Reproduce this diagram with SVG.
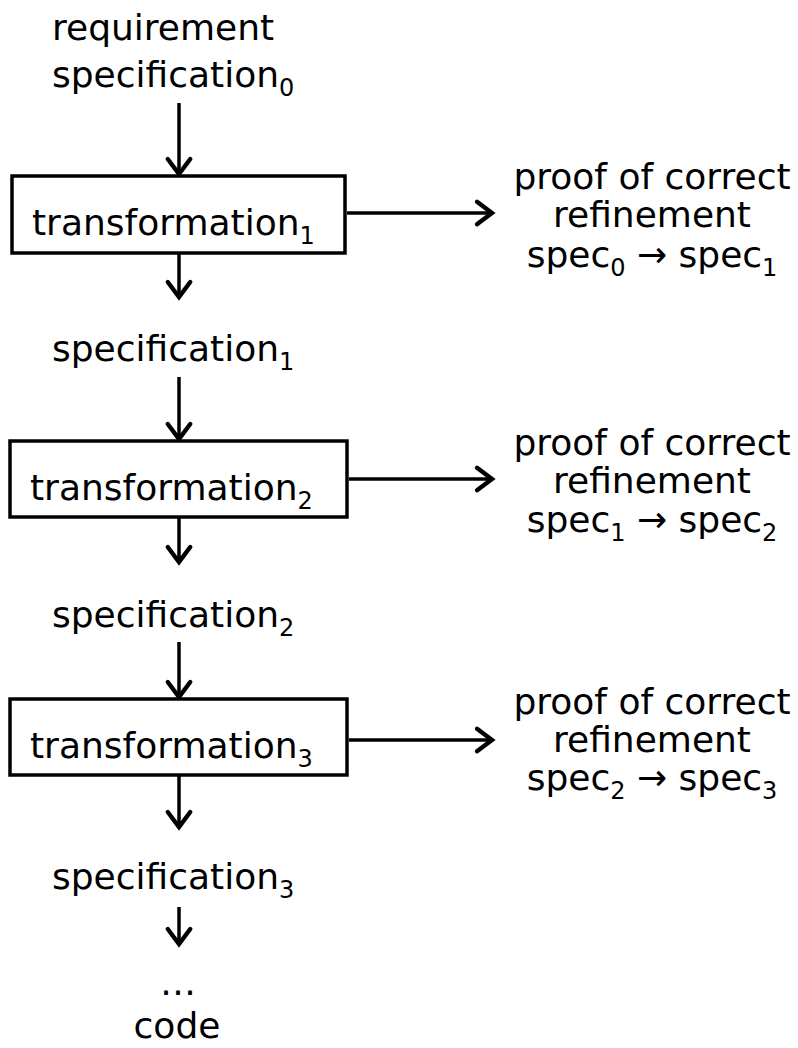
<svg xmlns="http://www.w3.org/2000/svg" width="798" height="1048" viewBox="0 0 798 1048">
<style>
text{font-family:"DejaVu Sans","Liberation Sans",sans-serif;font-size:36px;fill:#000}
.sub{font-size:24px}
.mid{text-anchor:middle}
.box{fill:#fff;stroke:#000;stroke-width:3.5}
.conn line{stroke:#000;stroke-width:3.5;fill:none}
</style>
<defs>
<marker id="ah" markerUnits="userSpaceOnUse" markerWidth="30" markerHeight="30" refX="0" refY="0" viewBox="-16 -12 20 24" orient="auto" overflow="visible">
<path d="M-12,-9 L0,0 L-12,9" fill="none" stroke="#000" stroke-width="3.5" stroke-linecap="round" stroke-linejoin="miter"/>
</marker>
</defs>
<rect width="798" height="1048" fill="#fff"/>
<g id="connectors" class="conn">
<line x1="179" y1="103" x2="179" y2="174" marker-end="url(#ah)"/>
<line x1="179" y1="253" x2="179" y2="297" marker-end="url(#ah)"/>
<line x1="179" y1="377" x2="179" y2="439" marker-end="url(#ah)"/>
<line x1="179" y1="517" x2="179" y2="562" marker-end="url(#ah)"/>
<line x1="179" y1="642" x2="179" y2="697" marker-end="url(#ah)"/>
<line x1="179" y1="775" x2="179" y2="827" marker-end="url(#ah)"/>
<line x1="179" y1="907" x2="179" y2="944" marker-end="url(#ah)"/>
<line x1="347" y1="213" x2="492" y2="213" marker-end="url(#ah)"/>
<line x1="349" y1="479" x2="492" y2="479" marker-end="url(#ah)"/>
<line x1="349" y1="740" x2="492" y2="740" marker-end="url(#ah)"/>
</g>
<g id="req-spec0">
<text x="52" y="40">requirement</text>
<text x="52" y="87">specification<tspan class="sub" dy="9">0</tspan></text>
</g>
<g id="transformation1">
<rect class="box" x="12" y="176" width="333" height="77"/>
<text x="32" y="235">transformation<tspan class="sub" dy="9">1</tspan></text>
</g>
<g id="proof1">
<text class="mid" x="652" y="189">proof of correct</text>
<text class="mid" x="652" y="227">refinement</text>
<text class="mid" x="652" y="267">spec<tspan class="sub" dy="9">0</tspan><tspan dy="-9"> → spec</tspan><tspan class="sub" dy="9">1</tspan></text>
</g>
<g id="spec1">
<text x="52" y="361">specification<tspan class="sub" dy="9">1</tspan></text>
</g>
<g id="transformation2">
<rect class="box" x="10" y="441" width="337" height="76"/>
<text x="30" y="500">transformation<tspan class="sub" dy="9">2</tspan></text>
</g>
<g id="proof2">
<text class="mid" x="652" y="455">proof of correct</text>
<text class="mid" x="652" y="493">refinement</text>
<text class="mid" x="652" y="532">spec<tspan class="sub" dy="9">1</tspan><tspan dy="-9"> → spec</tspan><tspan class="sub" dy="9">2</tspan></text>
</g>
<g id="spec2">
<text x="52" y="627">specification<tspan class="sub" dy="9">2</tspan></text>
</g>
<g id="transformation3">
<rect class="box" x="10" y="699" width="337" height="76"/>
<text x="30" y="758">transformation<tspan class="sub" dy="9">3</tspan></text>
</g>
<g id="proof3">
<text class="mid" x="652" y="714">proof of correct</text>
<text class="mid" x="652" y="752">refinement</text>
<text class="mid" x="652" y="790">spec<tspan class="sub" dy="9">2</tspan><tspan dy="-9"> → spec</tspan><tspan class="sub" dy="9">3</tspan></text>
</g>
<g id="spec3">
<text x="52" y="889">specification<tspan class="sub" dy="9">3</tspan></text>
</g>
<g id="code">
<text class="mid" x="178" y="995">…</text>
<text class="mid" x="177" y="1038">code</text>
</g>
</svg>
